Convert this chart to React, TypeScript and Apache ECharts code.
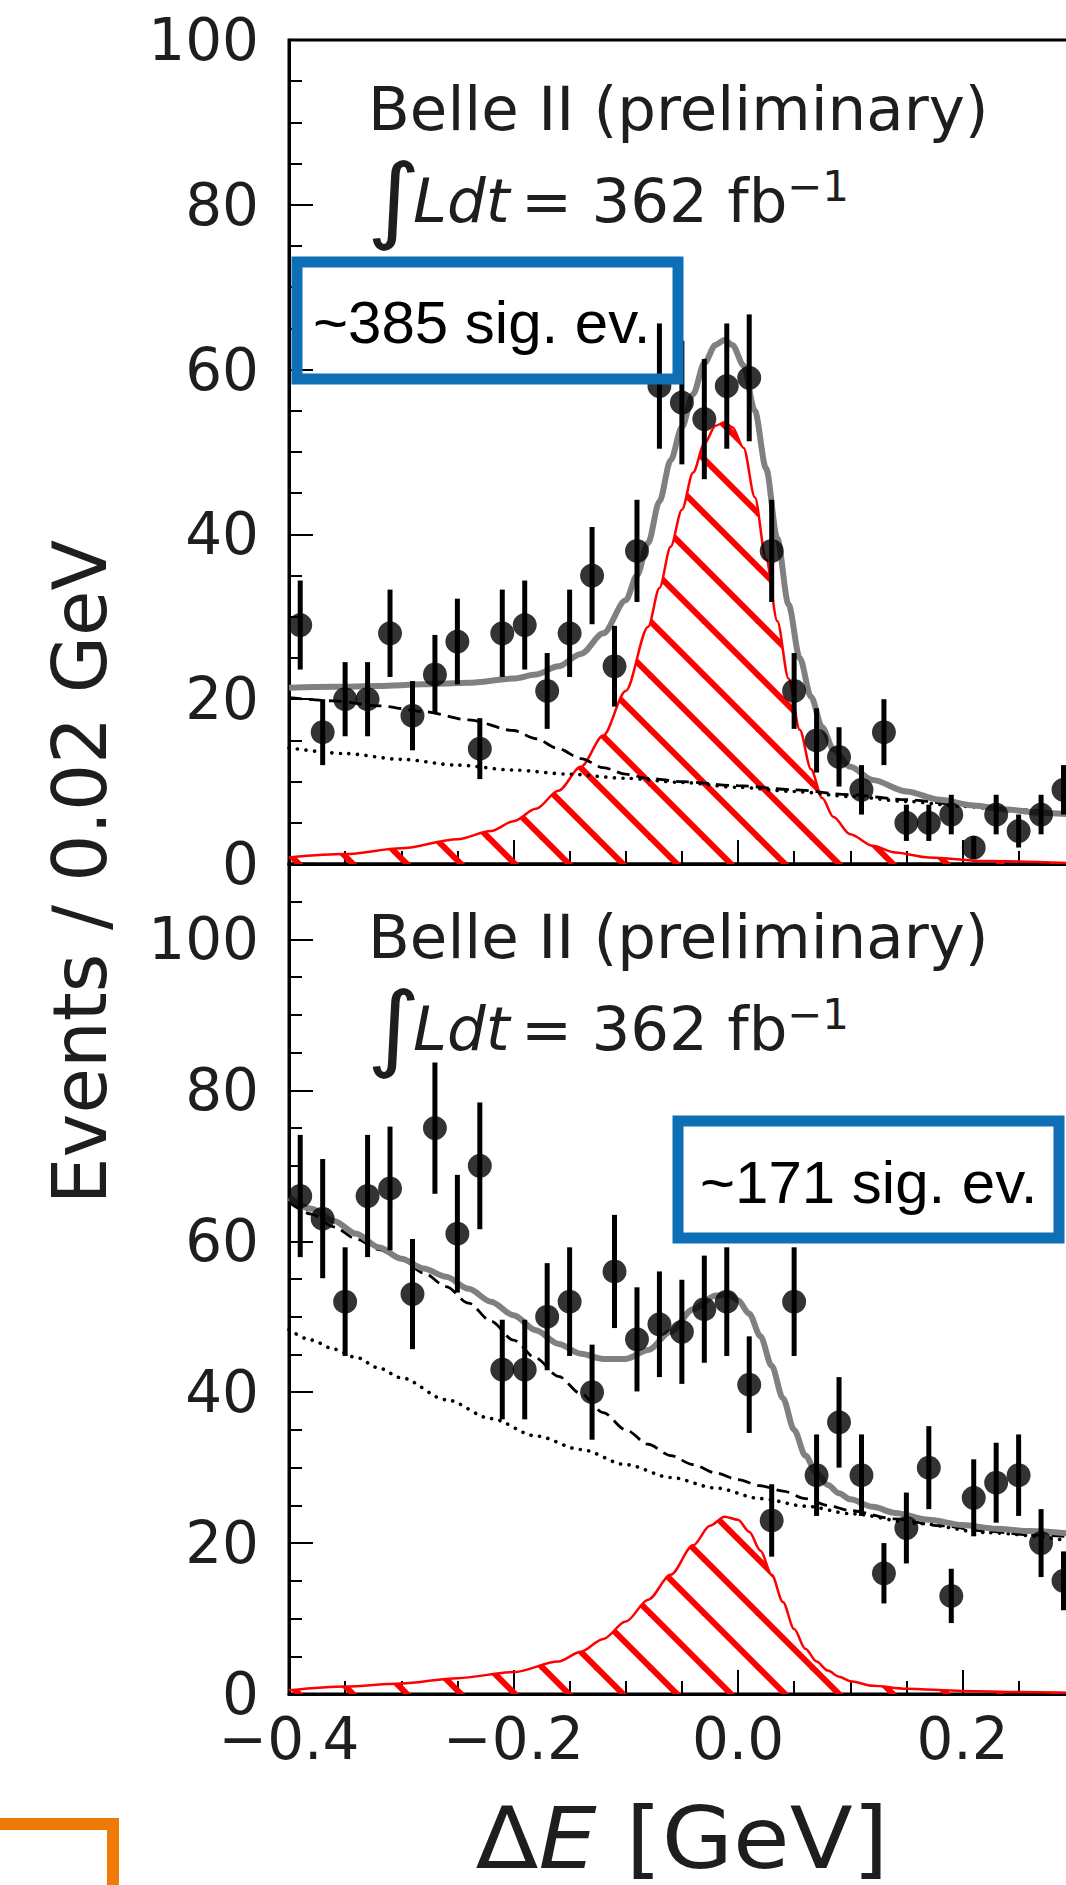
import React, { useEffect, useRef } from "react";
import * as echarts from "echarts";

// ---------- data ----------
const binCenters = [
  -0.39, -0.37, -0.35, -0.33, -0.31, -0.29, -0.27, -0.25, -0.23, -0.21, -0.19, -0.17,
  -0.15, -0.13, -0.11, -0.09, -0.07, -0.05, -0.03, -0.01, 0.01, 0.03, 0.05, 0.07, 0.09,
  0.11, 0.13, 0.15, 0.17, 0.19, 0.21, 0.23, 0.25, 0.27, 0.29,
];

const topCounts = [
  29, 16, 20, 20, 28, 18, 23, 27, 14, 28, 29, 21, 28, 35, 24, 38, 58, 56, 54, 58, 59, 38,
  21, 15, 13, 9, 16, 5, 5, 6, 2, 6, 4, 6, 9,
];
const topErrors = [
  5.4, 4.0, 4.5, 4.5, 5.3, 4.2, 4.8, 5.2, 3.7, 5.3, 5.4, 4.6, 5.3, 5.9, 4.9, 6.2, 7.6, 7.5,
  7.3, 7.6, 7.7, 6.2, 4.6, 3.9, 3.6, 3.0, 4.0, 2.2, 2.2, 2.4, 1.4, 2.4, 2.0, 2.4, 3.0,
];

const bottomCounts = [
  66, 63, 52, 66, 67, 53, 75, 61, 70, 43, 43, 50, 52, 40, 56, 47, 49, 48, 51, 52, 41, 23,
  52, 29, 36, 29, 16, 22, 30, 13, 26, 28, 29, 20, 15,
];
const bottomErrors = [
  8.1, 7.9, 7.2, 8.1, 8.2, 7.3, 8.7, 7.8, 8.4, 6.6, 6.6, 7.1, 7.2, 6.3, 7.5, 6.9, 7.0, 6.9,
  7.1, 7.2, 6.4, 4.8, 7.2, 5.4, 6.0, 5.4, 4.0, 4.7, 5.5, 3.6, 5.1, 5.3, 5.4, 4.5, 3.9,
];

// top panel fit curves
const topTotalX = [
  -0.4, -0.36, -0.32, -0.28, -0.24, -0.2, -0.18, -0.16, -0.14, -0.12, -0.1, -0.09, -0.08,
  -0.07, -0.06, -0.05, -0.04, -0.03, -0.02, -0.012, -0.005, 0.005, 0.015, 0.025, 0.035,
  0.045, 0.055, 0.065, 0.075, 0.085, 0.1, 0.12, 0.15, 0.18, 0.21, 0.24, 0.27, 0.3,
];
const topTotalY = [
  21.4, 21.5, 21.6, 21.8, 22.0, 22.5, 23.0, 24.0, 25.5, 28.0, 32.0, 35.0, 39.0, 44.0, 49.0,
  53.0, 57.0, 60.8, 63.0, 63.6, 63.0, 60.5, 55.0, 48.0, 39.5, 31.5, 25.0, 20.3, 16.6, 13.9,
  11.8, 10.2, 8.8, 7.8, 7.1, 6.6, 6.2, 6.0,
];
const topSignalX = [
  -0.4, -0.35, -0.3, -0.25, -0.22, -0.2, -0.18, -0.16, -0.14, -0.12, -0.1, -0.08, -0.07,
  -0.06, -0.05, -0.04, -0.03, -0.02, -0.012, -0.005, 0.005, 0.015, 0.025, 0.035, 0.045,
  0.055, 0.065, 0.075, 0.085, 0.1, 0.12, 0.14, 0.17, 0.22, 0.3,
];
const topSignalY = [
  0.8, 1.2, 1.9, 3.0, 4.0, 5.2, 6.7, 8.9, 11.8, 15.6, 21.0, 28.8, 33.5, 38.5, 43.0, 47.5,
  51.0, 53.2, 53.6, 53.0, 50.5, 44.5, 37.0, 29.5, 22.5, 16.3, 11.5, 8.0, 5.7, 3.6, 2.2, 1.4,
  0.8, 0.35, 0.1,
];
const topBkgX = [
  -0.4, -0.36, -0.32, -0.28, -0.24, -0.2, -0.18, -0.16, -0.14, -0.12, -0.1, -0.08, -0.05,
  0.0, 0.05, 0.1, 0.15, 0.2, 0.25, 0.3,
];
const topBkgY = [
  20.2, 19.8, 19.2, 18.5, 17.5, 16.2, 15.2, 14.0, 12.8, 11.7, 10.9, 10.4, 10.0, 9.5, 9.0,
  8.4, 7.8, 7.2, 6.6, 6.0,
];
const topContX = [
  -0.4, -0.35, -0.3, -0.25, -0.2, -0.15, -0.1, -0.05, 0.0, 0.05, 0.1, 0.15, 0.2, 0.25, 0.3,
];
const topContY = [14.1, 13.4, 12.7, 12.0, 11.4, 10.9, 10.4, 9.9, 9.3, 8.8, 8.2, 7.6, 7.0, 6.4, 5.8];

// bottom panel fit curves
const botTotalX = [
  -0.4, -0.38, -0.36, -0.34, -0.32, -0.3, -0.28, -0.26, -0.24, -0.22, -0.2, -0.18, -0.16,
  -0.14, -0.12, -0.1, -0.08, -0.06, -0.04, -0.02, -0.008, 0.0, 0.01, 0.02, 0.03, 0.04, 0.05,
  0.06, 0.07, 0.08, 0.09, 0.1, 0.12, 0.14, 0.17, 0.2, 0.23, 0.26, 0.3,
];
const botTotalY = [
  65.8, 64.3, 62.7, 61.0, 59.2, 57.7, 56.4, 55.3, 53.7, 52.0, 50.2, 48.2, 46.4, 45.1, 44.4,
  44.4, 45.6, 48.0, 51.0, 52.8, 52.9, 52.2, 50.4, 47.4, 43.5, 39.2, 35.0, 31.6, 29.3, 27.7,
  26.6, 25.8, 24.8, 24.0, 23.1, 22.4, 21.9, 21.6, 21.2,
];
const botSignalX = [
  -0.4, -0.35, -0.3, -0.25, -0.2, -0.16, -0.14, -0.12, -0.1, -0.08, -0.06, -0.04, -0.025,
  -0.012, 0.0, 0.01, 0.02, 0.03, 0.04, 0.05, 0.06, 0.07, 0.08, 0.09, 0.1, 0.12, 0.15, 0.2,
  0.25, 0.3,
];
const botSignalY = [
  0.5, 1.0, 1.4, 2.1, 2.9, 4.3, 5.6, 7.3, 9.6, 12.5, 15.8, 19.7, 22.3, 23.5, 23.1, 21.5, 19.0,
  15.8, 12.2, 8.6, 6.0, 4.3, 3.1, 2.3, 1.7, 1.1, 0.7, 0.4, 0.25, 0.15,
];
const botBkgX = [
  -0.4, -0.38, -0.36, -0.34, -0.32, -0.3, -0.28, -0.26, -0.24, -0.22, -0.2, -0.18, -0.16,
  -0.14, -0.12, -0.1, -0.08, -0.06, -0.04, -0.02, 0.0, 0.02, 0.04, 0.06, 0.08, 0.1, 0.14,
  0.18, 0.22, 0.26, 0.3,
];
const botBkgY = [
  65.2, 63.6, 61.9, 60.3, 58.9, 57.6, 55.8, 54.0, 51.8, 49.4, 46.9, 44.5, 42.1, 39.8, 37.3,
  35.0, 33.1, 31.6, 30.4, 29.3, 28.4, 27.6, 26.9, 25.9, 25.0, 24.3, 23.2, 22.3, 21.6, 21.1,
  20.8,
];
const botContX = [
  -0.4, -0.38, -0.36, -0.34, -0.32, -0.3, -0.26, -0.22, -0.18, -0.14, -0.1, -0.06, -0.02,
  0.02, 0.06, 0.1, 0.16, 0.22, 0.3,
];
const botContY = [
  48.3, 46.9, 45.7, 44.6, 43.2, 41.9, 39.0, 36.5, 34.2, 32.4, 30.4, 28.7, 27.3, 25.9, 24.9,
  23.9, 22.6, 21.4, 20.2,
];

const yTicksTop = [0, 20, 40, 60, 80, 100];
// the 0.4 tick label lies beyond the cropped right edge, as in the reference
const xTickLabels = ["\u22120.4", "\u22120.2", "0.0", "0.2", ""];

const experimentLabel = "Belle II (preliminary)";
const lumiValue = "= 362 fb";
const topSigLabel = "~385 sig. ev.";
const bottomSigLabel = "~171 sig. ev.";
const yTitle = "Events / 0.02 GeV";

// ---------- helpers ----------
const FONT = '"DejaVu Sans", sans-serif';
const SANS = '"Liberation Sans", Arial, sans-serif';
const TXT = "#1e1e1e";
const BLUE = "#0E6FB4";
const ORANGE = "#F07A06";

function pairs(xs: number[], ys: number[]) {
  return xs.map((x, i) => [x, ys[i]]);
}

function makeHatch(offset: number): HTMLCanvasElement {
  const s = 54;
  const c = document.createElement("canvas");
  c.width = s;
  c.height = s;
  const g = c.getContext("2d");
  if (g) {
    g.strokeStyle = "#ff0000";
    g.lineWidth = 6;
    g.lineCap = "butt";
    for (let k = -2; k <= 2; k++) {
      const d = offset + k * s;
      g.beginPath();
      g.moveTo(d - 10, -10);
      g.lineTo(d + s + 10, s + 10);
      g.stroke();
    }
  }
  return c;
}

function axisCommonX(gridIndex: number, showLabels: boolean) {
  return {
    gridIndex,
    type: "value",
    min: -0.4,
    max: 0.4,
    interval: 0.2,
    axisLine: { show: true, onZero: false, lineStyle: { color: "#000", width: 3 } },
    axisTick: { show: true, inside: true, length: 24, lineStyle: { color: "#000", width: 2 } },
    minorTick: { show: true, splitNumber: 4, length: 13, lineStyle: { color: "#000", width: 2 } },
    splitLine: { show: false },
    axisLabel: {
      show: showLabels,
      fontSize: 58,
      fontFamily: FONT,
      color: TXT,
      margin: 16,
      formatter: (v: number) => {
        const idx = Math.round((v + 0.4) / 0.2);
        return xTickLabels[idx] ?? "";
      },
    },
  };
}

function panelSeries(
  xi: number,
  counts: number[],
  errors: number[],
  sigX: number[],
  sigY: number[],
  bkgX: number[],
  bkgY: number[],
  contX: number[],
  contY: number[],
  totX: number[],
  totY: number[],
  hatch: HTMLCanvasElement
) {
  const common = {
    xAxisIndex: xi,
    yAxisIndex: xi,
    showSymbol: false,
    symbol: "none",
    smooth: 0.3,
    smoothMonotone: "x",
    silent: true,
  };
  return [
    {
      ...common,
      type: "line",
      z: 2,
      data: pairs(sigX, sigY),
      lineStyle: { color: "#ff0000", width: 2.5 },
      areaStyle: {
        color: { image: hatch, repeat: "repeat", imageWidth: 54, imageHeight: 54 },
        opacity: 1,
      },
    },
    {
      ...common,
      type: "line",
      z: 3,
      data: pairs(contX, contY),
      lineStyle: { color: "#000", width: 3.6, type: [0.1, 8.5], cap: "round" },
    },
    {
      ...common,
      type: "line",
      z: 3,
      data: pairs(bkgX, bkgY),
      lineStyle: { color: "#000", width: 2.8, type: [13, 7] },
    },
    {
      ...common,
      type: "line",
      z: 4,
      data: pairs(totX, totY),
      lineStyle: { color: "#808080", width: 6 },
    },
    {
      type: "custom",
      xAxisIndex: xi,
      yAxisIndex: xi,
      z: 5,
      silent: true,
      data: binCenters.map((x, i) => [x, counts[i], errors[i]]),
      encode: { x: 0, y: 1 },
      renderItem: (_p: any, api: any) => {
        const x = api.value(0);
        const y = api.value(1);
        const e = api.value(2);
        const a = api.coord([x, y - e]);
        const b = api.coord([x, y + e]);
        return {
          type: "line",
          shape: { x1: a[0], y1: a[1], x2: b[0], y2: b[1] },
          style: { stroke: "#000", lineWidth: 5 },
        };
      },
    },
    {
      type: "scatter",
      xAxisIndex: xi,
      yAxisIndex: xi,
      z: 6,
      silent: true,
      symbol: "circle",
      symbolSize: 24,
      itemStyle: { color: "#000" },
      data: binCenters.map((x, i) => [x, counts[i]]),
    },
  ];
}

function textEl(text: string, x: number, y: number, size: number, extra: any = {}) {
  return {
    type: "text",
    x,
    y,
    z: 100,
    silent: true,
    style: {
      text,
      fontSize: size,
      fontFamily: FONT,
      fill: TXT,
      align: "left",
      textAlign: "left",
      verticalAlign: "middle",
      textVerticalAlign: "middle",
      ...extra,
    },
  };
}

function annotation(dy: number) {
  return [
    textEl(experimentLabel, 368, 108 + dy, 61),
    {
      ...textEl("\u222B", 367, 198 + dy, 94),
      scaleX: 1.1,
    },
    textEl("Ldt", 413, 200 + dy, 61, { fontStyle: "italic" }),
    textEl(lumiValue, 521, 200 + dy, 61),
    textEl("\u22121", 787, 186 + dy, 42),
  ];
}

function blueBox(x: number, y: number, w: number, h: number, label: string, tx: number, ty: number) {
  return [
    {
      type: "rect",
      z: 100,
      silent: true,
      shape: { x, y, width: w, height: h },
      style: { fill: "none", stroke: BLUE, lineWidth: 11 },
    },
    {
      type: "rect",
      z: 100,
      silent: true,
      shape: { x: x + 3, y: y - 3, width: w - 2, height: h + 4 },
      style: { fill: "none", stroke: BLUE, lineWidth: 4, opacity: 0.7 },
    },
    textEl(label, tx, ty, 60, { fontFamily: SANS, fill: "#000" }),
  ];
}

export default function App() {
  const ref = useRef<HTMLDivElement>(null);

  useEffect(() => {
    if (!ref.current) return;
    const chart = echarts.init(ref.current, undefined, { renderer: "svg" });
    const hatchTop = makeHatch(29);
    const hatchBot = makeHatch(9);

    const gridCommon = {
      left: 289,
      width: 898,
      show: true,
      borderColor: "#000",
      borderWidth: 3,
      backgroundColor: "transparent",
      containLabel: false,
      outerBoundsMode: "none",
    };

    const option: any = {
      animation: false,
      backgroundColor: "#ffffff",
      grid: [
        { ...gridCommon, top: 40, height: 824 },
        { ...gridCommon, top: 864, height: 830 },
      ],
      xAxis: [axisCommonX(0, false), axisCommonX(1, true)],
      yAxis: [
        {
          gridIndex: 0,
          type: "value",
          min: yTicksTop[0],
          max: yTicksTop[yTicksTop.length - 1],
          interval: 20,
          axisLine: { show: true, onZero: false, lineStyle: { color: "#000", width: 3 } },
          axisTick: { show: true, inside: true, length: 24, lineStyle: { color: "#000", width: 2 } },
          minorTick: { show: true, splitNumber: 4, length: 13, lineStyle: { color: "#000", width: 2 } },
          splitLine: { show: false },
          axisLabel: { fontSize: 58, fontFamily: FONT, color: TXT, margin: 30 },
        },
        {
          gridIndex: 1,
          type: "value",
          min: 0,
          max: 110,
          interval: 20,
          axisLine: { show: true, onZero: false, lineStyle: { color: "#000", width: 3 } },
          axisTick: { show: true, inside: true, length: 24, lineStyle: { color: "#000", width: 2 } },
          splitLine: { show: false },
          axisLabel: { fontSize: 58, fontFamily: FONT, color: TXT, margin: 30, showMaxLabel: false },
        },
        {
          gridIndex: 1,
          type: "value",
          position: "left",
          min: 0,
          max: 110,
          interval: 5,
          axisLine: { show: false, onZero: false },
          axisTick: { show: true, inside: true, length: 13, lineStyle: { color: "#000", width: 2 } },
          splitLine: { show: false },
          axisLabel: { show: false },
        },
      ],
      series: [
        ...panelSeries(0, topCounts, topErrors, topSignalX, topSignalY, topBkgX, topBkgY, topContX, topContY, topTotalX, topTotalY, hatchTop),
        ...panelSeries(1, bottomCounts, bottomErrors, botSignalX, botSignalY, botBkgX, botBkgY, botContX, botContY, botTotalX, botTotalY, hatchBot),
      ],
      graphic: [
        ...annotation(0),
        ...annotation(828),
        ...blueBox(297, 262, 381, 117, topSigLabel, 313, 322),
        ...blueBox(678, 1121, 381, 117, bottomSigLabel, 700, 1182),
        {
          type: "text",
          x: 80,
          y: 872,
          rotation: Math.PI / 2,
          z: 100,
          silent: true,
          style: {
            text: yTitle,
            fontSize: 74,
            fontFamily: FONT,
            fill: TXT,
            align: "center",
            textAlign: "center",
            verticalAlign: "middle",
            textVerticalAlign: "middle",
          },
        },
        {
          type: "text",
          x: 682,
          y: 1838,
          scaleX: 1.07,
          z: 100,
          silent: true,
          style: {
            text: "{a|\u0394}{b|E}{a| [GeV]}",
            align: "center",
            textAlign: "center",
            verticalAlign: "middle",
            textVerticalAlign: "middle",
            rich: {
              a: { fontSize: 86, lineHeight: 80, fontFamily: FONT, fill: TXT, color: TXT },
              b: { fontSize: 86, lineHeight: 80, fontFamily: FONT, fontStyle: "italic", fill: TXT, color: TXT },
            },
          },
        },
        {
          type: "polyline",
          z: 100,
          silent: true,
          shape: { points: [[0, 1824], [113, 1824], [113, 1885]] },
          style: { fill: "none", stroke: ORANGE, lineWidth: 12 },
        },
      ],
    };
    chart.setOption(option);
    return () => chart.dispose();
  }, []);

  return (
    <div
      ref={ref}
      style={{ position: "absolute", left: 0, top: 0, width: 1066, height: 1885, background: "#fff" }}
    />
  );
}
